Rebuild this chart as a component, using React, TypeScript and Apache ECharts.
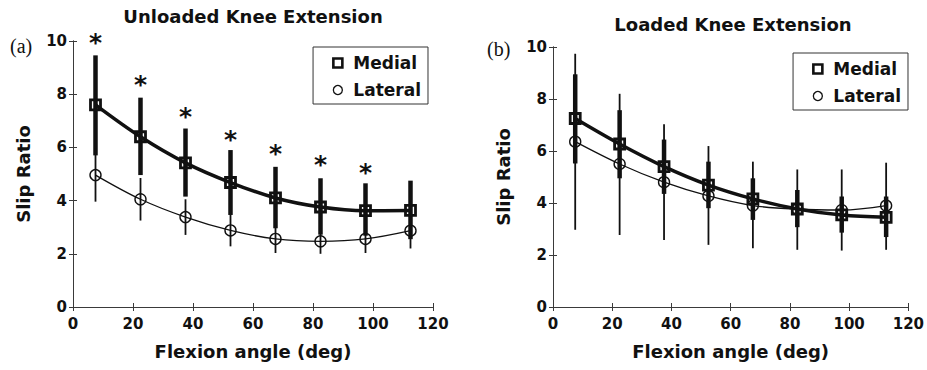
import React, { useEffect, useRef } from "react";
import * as echarts from "echarts";

const angles = [7.5, 22.5, 37.5, 52.5, 67.5, 82.5, 97.5, 112.5];
const xTicks = [0, 20, 40, 60, 80, 100, 120];
const yTicks = [0, 2, 4, 6, 8, 10];

const unloadedMedial = [7.6, 6.4, 5.42, 4.68, 4.1, 3.76, 3.62, 3.63];
const unloadedMedialLow = [5.7, 4.96, 4.15, 3.46, 2.96, 2.72, 2.68, 2.55];
const unloadedMedialHigh = [9.46, 7.87, 6.71, 5.9, 5.27, 4.84, 4.65, 4.75];
const unloadedLateral = [4.96, 4.05, 3.38, 2.88, 2.56, 2.47, 2.56, 2.87];
const unloadedLateralLow = [3.96, 3.25, 2.71, 2.28, 2.03, 2.0, 2.03, 2.2];
const unloadedLateralHigh = [5.96, 4.85, 4.05, 3.48, 3.1, 2.95, 3.1, 3.5];
const unloadedStars = [9.94, 8.35, 7.15, 6.3, 5.78, 5.34, 5.05];

const loadedMedial = [7.25, 6.27, 5.4, 4.69, 4.16, 3.77, 3.54, 3.45];
const loadedMedialLow = [5.52, 4.95, 4.35, 3.8, 3.35, 3.07, 2.86, 2.69];
const loadedMedialHigh = [8.95, 7.57, 6.44, 5.59, 4.95, 4.5, 4.25, 4.25];
const loadedLateral = [6.36, 5.5, 4.8, 4.27, 3.9, 3.76, 3.73, 3.9];
const loadedLateralLow = [2.97, 2.77, 2.58, 2.39, 2.26, 2.2, 2.17, 2.2];
const loadedLateralHigh = [9.74, 8.2, 7.03, 6.19, 5.59, 5.29, 5.29, 5.55];

const titles = ["Unloaded Knee Extension", "Loaded Knee Extension"];
const panelLabels = ["(a)", "(b)"];
const xName = "Flexion angle (deg)";
const yName = "Slip Ratio";
const seriesNames = ["Medial", "Lateral"];

const FONT = "DejaVu Sans";
const INK = "#111";
const AXIS = "#3a3a3a";

function pairs(xs: number[], ys: number[]) {
  return ys.map((y, i) => [xs[i], y]);
}
function triples(xs: number[], lo: number[], hi: number[]) {
  return lo.map((l, i) => [xs[i], l, hi[i]]);
}

function errorSeries(grid: number, data: number[][], width: number, z: number) {
  return {
    type: "custom",
    xAxisIndex: grid * 2,
    yAxisIndex: grid * 2,
    data,
    encode: { x: 0, y: [1, 2] },
    z,
    renderItem: (params: any, api: any) => {
      const x = api.value(0);
      const p1 = api.coord([x, api.value(1)]);
      const p2 = api.coord([x, api.value(2)]);
      return {
        type: "line",
        shape: { x1: p1[0], y1: p1[1], x2: p2[0], y2: p2[1] },
        style: { stroke: INK, lineWidth: width },
      };
    },
  };
}

function starSeries(grid: number, data: number[][]) {
  return {
    type: "custom",
    xAxisIndex: grid * 2,
    yAxisIndex: grid * 2,
    data,
    encode: { x: 0, y: 1 },
    z: 5,
    renderItem: (params: any, api: any) => {
      const p = api.coord([api.value(0), api.value(1)]);
      return {
        type: "text",
        x: p[0],
        y: p[1],
        style: {
          text: "*",
          fontFamily: FONT,
          fontWeight: "bold",
          fontSize: 25,
          fill: INK,
          align: "center",
          verticalAlign: "middle",
        },
      };
    },
  };
}

function lineSeries(grid: number, name: string, data: number[][], thick: boolean) {
  return {
    type: "line",
    name,
    xAxisIndex: grid * 2,
    yAxisIndex: grid * 2,
    data,
    smooth: 0.35,
    symbol: thick ? "rect" : "circle",
    symbolSize: thick ? 10 : 11,
    showSymbol: true,
    z: 4,
    lineStyle: { color: INK, width: thick ? 3.5 : 1.3 },
    itemStyle: {
      color: "rgba(255,255,255,0)",
      borderColor: INK,
      borderWidth: thick ? 2.8 : 1.4,
    },
  };
}

function axesFor(grid: number) {
  const common = {
    gridIndex: grid,
    type: "value",
    axisLine: { show: true, lineStyle: { color: AXIS, width: 1 } },
    axisTick: { show: true, inside: true, length: 4, lineStyle: { color: AXIS } },
    splitLine: { show: false },
  };
  const labelStyle = {
    fontFamily: FONT,
    fontWeight: "bold",
    fontSize: 15,
    color: INK,
  };
  const x = [
    {
      ...common,
      position: "bottom",
      min: 0,
      max: 120,
      interval: 20,
      axisLabel: { ...labelStyle, margin: 9, customValues: xTicks },
      name: xName,
      nameLocation: "middle",
      nameGap: 35,
      nameTextStyle: { fontFamily: FONT, fontWeight: "bold", fontSize: 18, color: INK },
    },
    {
      ...common,
      position: "top",
      min: 0,
      max: 120,
      interval: 20,
      axisLabel: { show: false },
    },
  ];
  const y = [
    {
      ...common,
      position: "left",
      min: 0,
      max: 10,
      interval: 2,
      axisLabel: { ...labelStyle, margin: 6, customValues: yTicks },
      name: yName,
      nameLocation: "middle",
      nameGap: 41,
      nameTextStyle: { fontFamily: FONT, fontWeight: "bold", fontSize: 18, color: INK },
    },
    {
      ...common,
      position: "right",
      min: 0,
      max: 10,
      interval: 2,
      axisLabel: { show: false },
    },
  ];
  return { x, y };
}

function legendFor(right: number, top: number) {
  return {
    orient: "vertical",
    right,
    top,
    padding: [6, 7, 4, 19],
    itemGap: 7,
    itemWidth: 9,
    itemHeight: 9,
    borderColor: "#333",
    borderWidth: 1,
    backgroundColor: "#fff",
    selectedMode: false,
    textStyle: {
      fontFamily: FONT,
      fontWeight: "bold",
      fontSize: 17,
      lineHeight: 20,
      color: INK,
      padding: [0, 0, 0, 6],
    },
    data: [
      {
        name: seriesNames[0],
        icon: "rect",
        itemStyle: { color: "#fff", borderColor: INK, borderWidth: 2.6 },
      },
      {
        name: seriesNames[1],
        icon: "circle",
        itemStyle: { color: "#fff", borderColor: INK, borderWidth: 1.3 },
      },
    ],
  };
}

export default function App() {
  const ref = useRef<HTMLDivElement>(null);
  useEffect(() => {
    if (!ref.current) return;
    const chart = echarts.init(ref.current, null, { renderer: "svg" });
    const a0 = axesFor(0);
    const a1 = axesFor(1);
    const titleStyle = { fontFamily: FONT, fontWeight: "bold", fontSize: 18, color: INK };
    const panelStyle = { fontFamily: "Liberation Serif", fontWeight: "normal", fontSize: 20, color: INK };
    chart.setOption({
      animation: false,
      backgroundColor: "#fff",
      title: [
        { text: titles[0], left: 253, top: 7, textAlign: "center", padding: 0, textStyle: titleStyle },
        { text: titles[1], left: 733, top: 15, textAlign: "center", padding: 0, textStyle: titleStyle },
        { text: panelLabels[0], left: 10, top: 36, padding: 0, textStyle: panelStyle },
        { text: panelLabels[1], left: 487, top: 39, padding: 0, textStyle: panelStyle },
      ],
      grid: [
        { left: 73, top: 41, width: 360, height: 266, containLabel: false },
        { left: 553, top: 47, width: 359, height: 260, containLabel: false },
      ],
      xAxis: [...a0.x, ...a1.x],
      yAxis: [...a0.y, ...a1.y],
      legend: [legendFor(499, 47), legendFor(19, 53)],
      series: [
        errorSeries(0, triples(angles, unloadedMedialLow, unloadedMedialHigh), 4.5, 2),
        errorSeries(0, triples(angles, unloadedLateralLow, unloadedLateralHigh), 1.8, 2),
        lineSeries(0, seriesNames[0], pairs(angles, unloadedMedial), true),
        lineSeries(0, seriesNames[1], pairs(angles, unloadedLateral), false),
        starSeries(0, pairs(angles, unloadedStars)),
        errorSeries(1, triples(angles, loadedMedialLow, loadedMedialHigh), 4.5, 2),
        errorSeries(1, triples(angles, loadedLateralLow, loadedLateralHigh), 1.8, 2),
        lineSeries(1, seriesNames[0], pairs(angles, loadedMedial), true),
        lineSeries(1, seriesNames[1], pairs(angles, loadedLateral), false),
      ],
    });
    return () => chart.dispose();
  }, []);
  return (
    <div
      ref={ref}
      style={{ position: "fixed", left: 0, top: 0, width: 927, height: 370, background: "#fff" }}
    />
  );
}
